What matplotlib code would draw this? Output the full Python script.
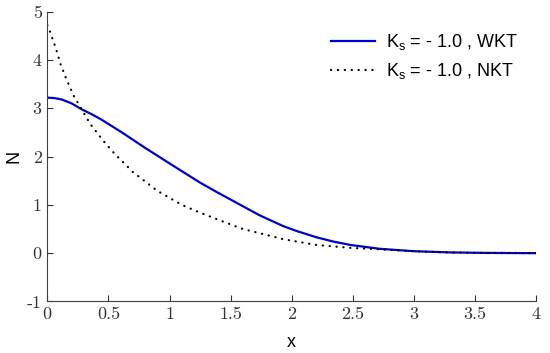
import matplotlib.pyplot as plt

# valeurs
x_wkt = [0, 0.06, 0.12, 0.2, 0.28, 0.36, 0.44, 0.61, 0.8, 1.03, 1.25, 1.39, 1.55, 1.74,
         1.93, 2.05, 2.2, 2.34, 2.48, 2.72, 3.0, 3.3, 3.6, 4.0]
n_wkt = [3.22, 3.21, 3.18, 3.1, 2.98, 2.88, 2.77, 2.5, 2.18, 1.81, 1.46, 1.26, 1.04, 0.78,
         0.56, 0.45, 0.33, 0.24, 0.17, 0.09, 0.04, 0.015, 0.005, 0.0]

x_nkt = [0, 0.02, 0.07, 0.11, 0.16, 0.22, 0.276, 0.35, 0.46, 0.55, 0.7, 0.9, 1.1,
         1.22, 1.39, 1.6, 1.93, 2.2, 2.48, 2.72, 3.0, 3.3, 3.6, 4.0]
n_nkt = [4.72, 4.6, 4.24, 3.9, 3.58, 3.24, 3.0, 2.68, 2.32, 2.06, 1.68, 1.29, 1.0,
         0.87, 0.7, 0.5, 0.29, 0.17, 0.11, 0.08, 0.04, 0.015, 0.005, 0.0]

xticks = [0, 0.5, 1, 1.5, 2, 2.5, 3, 3.5, 4]
xlabels = ['0', '0.5', '1', '1.5', '2', '2.5', '3', '3.5', '4']
yticks = [-1, 0, 1, 2, 3, 4, 5]
ylabels = ['-1', '0', '1', '2', '3', '4', '5']

fig = plt.figure(figsize=(5.5, 3.53), dpi=100)
ax = fig.add_axes([0.086, 0.146, 0.889, 0.821])

ax.plot(x_wkt, n_wkt, color='#0000cc', lw=1.6,
        label=r'K$_\mathregular{s}$ = - 1.0 , WKT')
ax.plot(x_nkt, n_nkt, color='black', lw=1.6, ls=(0, (0.1, 3.0)),
        dash_capstyle='round', label=r'K$_\mathregular{s}$ = - 1.0 , NKT')

ax.set_xlim(0, 4)
ax.set_ylim(-1, 5)
ax.set_xticks(xticks)
ax.set_xticklabels(xlabels, fontfamily='cmr10', fontsize=13)
ax.set_yticks(yticks)
ax.set_yticklabels(ylabels, fontfamily='cmr10', fontsize=13)
ax.tick_params(direction='in', length=4, colors='#333333', width=0.8, pad=4)

for s in ['top', 'right']:
    ax.spines[s].set_visible(False)
for s in ['left', 'bottom']:
    ax.spines[s].set_color('#404040')
    ax.spines[s].set_linewidth(0.8)

ax.set_xlabel('x', fontfamily='Liberation Sans', fontsize=13, va='center')
ax.set_ylabel('N', fontfamily='Liberation Sans', fontsize=13, va='center')
ax.xaxis.set_label_coords(0.499, -0.143)
ax.yaxis.set_label_coords(-0.068, 0.5)

leg = ax.legend(loc='upper right', frameon=False,
                prop={'family': 'Liberation Sans', 'size': 13},
                handlelength=2.4, handletextpad=0.6, labelspacing=0.5,
                bbox_to_anchor=(0.995, 0.985))

fig.savefig('out.png', dpi=100)
